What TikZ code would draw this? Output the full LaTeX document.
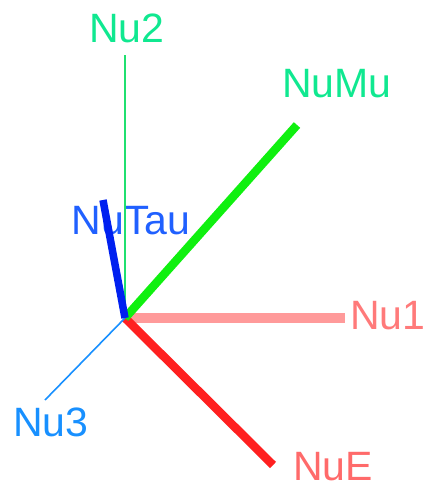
\documentclass[tikz,border=0pt]{standalone}
\usepackage{fontspec}
\setmainfont{Liberation Sans}
\definecolor{cgtxt}{HTML}{10E890}
\definecolor{cgline}{HTML}{20E070}
\definecolor{cmu}{HTML}{10F010}
\definecolor{ctautxt}{HTML}{2060FF}
\definecolor{ctau}{HTML}{0020F0}
\definecolor{cthree}{HTML}{1890FF}
\definecolor{conetxt}{HTML}{FF7A7A}
\definecolor{cone}{HTML}{FF9A9A}
\definecolor{cetxt}{HTML}{FF6A6A}
\definecolor{ce}{HTML}{FF2020}
\begin{document}
\begin{tikzpicture}[x=1pt,y=-1pt,
  lbl/.style={inner sep=0pt,font=\fontsize{41}{41}\selectfont},
  thinax/.style={line width=1.6pt},
  thickax/.style={line width=8.5pt}]
\useasboundingbox (0,0) rectangle (425,494);
\node[lbl,text=cgtxt] (l2) at (127,28) {Nu2};
\node[lbl,text=cgtxt] (lMu) at (337,84) {NuMu};
\node[lbl,text=ctautxt] (lTau) at (131,221) {NuTau};
\node[lbl,text=cthree] (l3) at (51,422) {Nu3};
\node[lbl,text=conetxt,anchor=west] (l1) at (350,316) {Nu1};
\node[lbl,text=cetxt,anchor=west] (lE) at (293,467) {NuE};
\coordinate (O) at (125,318);
\coordinate (e1) at (345,318);
\coordinate (eE) at (273,465);
\coordinate (e3) at (45,400);
\coordinate (e2) at (125,55);
\coordinate (eMu) at (297,125);
\coordinate (eTau) at (103,200);
\draw[cone,line width=9.5pt] (O) -- (e1);
\draw[ce,thickax] (O) -- (eE);
\draw[cthree,thinax] (O) -- (e3);
\draw[cgline,thinax] (O) -- (e2);
\draw[cmu,thickax] (O) -- (eMu);
\draw[ctau,line width=7.5pt] (O) -- (eTau);
\end{tikzpicture}
\end{document}
